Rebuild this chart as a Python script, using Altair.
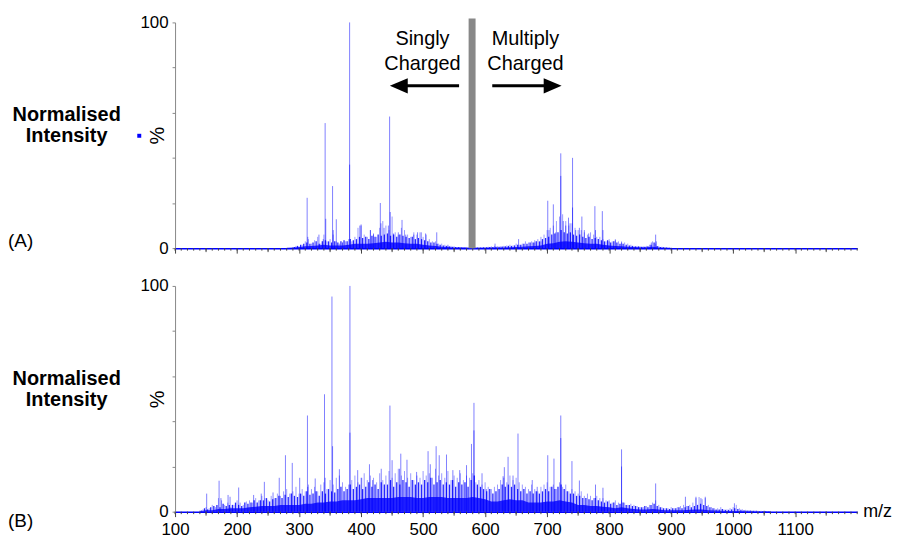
import altair as alt
import pandas as pd

FONT = "Liberation Sans"
BLUE = "#0000ff"
W, H = 686, 227

# ---------------- Panel A data ----------------
A_PEAK_MZ = [313, 314, 332, 339, 342, 343, 354, 355, 360, 370, 381.5, 381.5, 398, 400, 415,
             420, 431, 432, 437, 444, 446, 447, 452, 460, 466, 472, 485, 491, 497, 504,
             522, 540, 616, 654, 680, 690, 701, 703, 710, 714, 722, 722, 726, 730, 734.5,
             737, 741, 741, 746, 752, 756, 760, 767, 777, 778, 789, 790, 800, 810, 820,
             868, 875, 876]
A_PEAK_INT = [22.3, 5, 6, 4, 55.4, 13, 27.5, 8, 12.8, 2.5, 100, 37, 10, 10.5, 8,
              6.5, 20, 11, 9, 10, 58.3, 16, 6.5, 7, 12.5, 6, 6, 7, 7, 6.5,
              7, 1.5, 2, 4, 2.5, 3, 21, 8, 19.4, 7, 42, 32, 12, 10, 13.5,
              11, 40, 18, 8, 9, 14, 8, 6.5, 18.6, 8, 16.4, 8, 3, 3.5, 2.5,
              2.5, 6, 3]

A_HAIR_MZ = list(range(290, 905, 5))
A_HAIR_INT = [0.5, 1, 0.8, 1.5, 3, 4, 2, 3.5, 5, 2,
              6, 3, 4, 6, 3, 2, 2.5, 3, 4, 3,
              5, 9, 10, 6, 5, 8, 6, 5, 9, 12,
              10, 8, 14, 7, 6, 9, 8, 6, 5, 7,
              6, 7, 5, 6, 4, 3, 3, 2, 2, 1.5,
              1, 1, 0.8, 0.5, 0.5, 0.5, 0.5, 0.4, 0.3, 0.5,
              0.5, 0.5, 0.5, 0.6, 0.8, 1, 0.8, 0.8, 1, 1.2,
              1.5, 1.2, 2, 1.5, 2, 3, 2.5, 3, 3.5, 4,
              5, 6, 8, 9, 10, 12, 14, 15, 12, 10,
              11, 9, 8, 8, 7, 6, 7, 6, 5, 5,
              4, 3, 4, 3, 4, 3, 3, 2.5, 2, 1.5,
              1, 1, 0.8, 0.8, 1, 1.5, 3, 2, 1, 0.6,
              0.5, 0.4, 0.3]

A_DARK_MZ = [292.5 + 5 * i for i in range(122)]
A_DARK_INT = [0.5, 1, 1.5, 2, 2.5, 2, 2.5, 3, 2, 3,
              3.5, 3, 2.5, 3, 2.5, 3, 3.5, 3, 4, 3.5,
              4, 5, 4.5, 5, 4, 5.5, 5, 6, 5.5, 6,
              6.5, 5.5, 6, 5, 6, 5.5, 5, 4.5, 5, 4,
              4.5, 4, 3.5, 3, 2.5, 2.5, 2, 1.5, 1.2, 1,
              0.8, 0.6, 0.5, 0.5, 0.4, 0.4, 0.3, 0.3, 0.3, 0.3,
              0.3, 0.4, 0.4, 0.5, 0.5, 0.6, 0.6, 0.7, 0.8, 1,
              1, 1.2, 1.5, 1.5, 2, 2, 2.5, 2.5, 3, 3,
              4, 4.5, 5, 6, 6.5, 7, 8, 7, 6.5, 7,
              6, 5.5, 6, 5, 4.5, 5, 4, 4.5, 4, 3.5,
              3, 3.5, 2.5, 3, 2.5, 2, 2, 1.5, 1.2, 1,
              0.8, 0.8, 0.6, 0.6, 0.8, 1.5, 2.5, 1, 0.5, 0.4,
              0.3, 0.2]

A_ENV_MZ = list(range(280, 910, 10))
A_ENV_INT = [0.2, 0.3, 0.5, 0.8, 1, 1.2, 1.5, 1.2, 1.2, 1.2,
             1.5, 2, 2, 2, 2.2, 2.5, 2.8, 2.5, 2.5, 2.2,
             2, 2, 1.5, 1.2, 1, 0.6, 0.5, 0.3, 0.3, 0.2,
             0.2, 0.2, 0.2, 0.3, 0.3, 0.3, 0.4, 0.5, 0.6, 0.8,
             1, 1.2, 2, 2.2, 2.8, 3, 2.8, 2.5, 2.2, 2,
             2, 1.5, 1.2, 1, 0.8, 0.6, 0.5, 0.4, 0.4, 0.6,
             0.3, 0.2, 0.1]

# ---------------- Panel B data ----------------
B_PEAK_MZ = [151, 171, 174, 185.5, 188.7, 202.6, 226.7, 239, 244, 258, 268, 278, 289, 301,
             313.5, 314, 326, 341, 342, 353, 354, 365, 382, 382, 394.5, 401, 413.5, 418.6,
             432.5, 446.5, 450, 462, 464, 474, 489.5, 508, 511.6, 521, 526, 537.7, 548, 559,
             570, 578, 582, 582, 595, 602, 629, 631, 637, 645, 653, 676, 684, 701, 711,
             722, 722, 740, 752, 778, 790, 820, 820, 875, 923, 940, 948, 955, 1002]
B_PEAK_INT = [8, 13.7, 6, 7.4, 6.6, 10.7, 7.4, 8, 13.2, 8.5, 15, 25, 21.6, 15,
              42.6, 11, 14.7, 52, 15, 95.3, 29, 18.8, 100, 35, 18.4, 15, 21, 14,
              19, 47, 22.8, 19, 25.7, 23, 17.6, 26.8, 21, 29, 25, 25.3, 18.4, 18.4,
              20.6, 30, 48.2, 36, 17, 10, 15.7, 19.7, 24.3, 16, 34.6, 14, 11, 25, 23.5,
              42.6, 32.6, 22.4, 13.8, 12, 10.6, 27.6, 20, 12.5, 6.6, 6.6, 6, 6.6, 3.7]

B_HAIR_MZ = list(range(140, 1065, 5))
B_HAIR_INT = [0.5, 1, 2, 1.5, 3, 2, 6, 5, 3, 4,
              2, 3, 5, 4, 3, 4.5, 5, 4, 6, 5,
              7, 6, 5, 7, 6, 8, 7, 9, 10, 8,
              9, 11, 8, 10, 9, 12, 10, 11, 9, 12,
              13, 10, 14, 12, 15, 16, 13, 11, 12, 14,
              16, 13, 15, 17, 14, 16, 15, 13, 17, 14,
              16, 18, 15, 17, 19, 16, 18, 15, 17, 14,
              16, 15, 18, 16, 17, 15, 19, 16, 17, 15,
              18, 14, 16, 15, 17, 14, 16, 15, 17, 13,
              14, 12, 13, 11, 10, 11, 12, 14, 15, 13,
              16, 14, 15, 13, 12, 11, 10, 12, 10, 9,
              11, 12, 13, 11, 12, 10, 13, 11, 12, 9,
              10, 9, 8, 9, 7, 8, 7, 6, 7, 6,
              6, 5, 5, 4, 5, 4, 5, 4, 3, 3.5,
              3, 2.5, 2, 2, 2.5, 3, 4, 5, 3, 2,
              1.5, 1.5, 2, 1.5, 2, 2.5, 3, 2.5, 3, 4,
              6, 6.5, 5.5, 6, 3, 2, 1.5, 1.5, 2, 1,
              1, 1.5, 2, 3, 1.5, 1, 0.8, 0.6, 0.5, 0.5,
              0.4, 0.4, 0.5, 0.3, 0.3]

B_DARK_MZ = [142.5 + 5 * i for i in range(184)]
B_DARK_INT = [0.5, 1.5, 1, 2, 2.5, 3, 2, 3.5, 2.5, 3,
              3, 4, 3, 2.5, 4, 3.5, 4, 5, 4, 5,
              5, 6, 4.5, 5.5, 6, 7, 6, 7.5, 6.5, 8,
              7, 6.5, 8, 7, 9, 7.5, 8, 9, 7, 9,
              8, 10, 9, 8.5, 10, 11, 9, 10, 12, 10,
              11, 12, 10, 11, 13, 11, 12, 10, 13, 12,
              12, 14, 11, 13, 12, 14, 13, 11, 14, 12,
              13, 12, 14, 13, 15, 12, 13, 14, 12, 13,
              12, 14, 11, 13, 12, 13, 11, 14, 16, 12,
              11, 10, 9, 10, 8, 9, 10, 12, 11, 12,
              11, 12, 10, 9, 10, 8, 9, 8, 9, 8,
              9, 10, 9, 11, 10, 11, 12, 10, 9, 8,
              8, 7, 7, 6, 6, 5.5, 5, 6, 5, 4.5,
              4, 4.5, 3.5, 4, 3, 3.5, 4, 3, 3, 2.5,
              2.5, 2, 2, 2.5, 2, 3, 3.5, 2.5, 2, 1.5,
              1.5, 1.2, 1.5, 1.5, 2, 1.5, 2, 2.5, 2, 2.5,
              3, 3.5, 3, 2.5, 2, 1.5, 1, 1, 1.2, 0.8,
              0.8, 1, 1.5, 1.2, 0.8, 0.6, 0.5, 0.5, 0.4, 0.4,
              0.3, 0.3, 0.3, 0.2]

B_ENV_MZ = list(range(140, 1070, 10))
B_ENV_INT = [0.2, 0.6, 0.6, 1.2, 1.2, 1.5, 1.5, 1.5, 2, 2.2,
             2.5, 2.5, 2.5, 3, 3, 3, 3, 3.5, 3.5, 4,
             4, 4.5, 4.5, 5, 5, 5, 5.5, 6, 6, 6,
             6, 6, 6.5, 6.5, 6.5, 6, 6, 6.5, 6.5, 6.5,
             6, 6, 6, 6, 6.5, 6, 5.5, 4.5, 4.5, 5,
             5.5, 5, 5, 4, 4, 4, 4.5, 4.5, 5, 4.5,
             4, 3, 3, 2.5, 2.5, 2.2, 2, 1.5, 2, 1.5,
             1.2, 1, 1, 1.2, 1, 0.6, 0.6, 0.6, 0.6, 0.8,
             1, 1, 0.6, 0.5, 0.4, 0.3, 0.3, 0.3, 0.2, 0.2,
             0.1, 0.1, 0.1]

X_LABEL_TICKS = list(range(100, 1200, 100))
X_MINOR_TICKS = list(range(100, 1210, 10))
X_MID_TICKS = list(range(150, 1250, 100))
Y_TICKS = list(range(0, 110, 10))

# annotation values (panel A)
DIVIDER_MZ = 579
SINGLY_MZ, MULTIPLY_MZ, TEXT_Y = 499, 665, 90.2
ARROW_Y = 71.9
LEFT_ARROW = (558, 462)
RIGHT_ARROW = (611.5, 708)
LEFT_HEAD_MZ, RIGHT_HEAD_MZ = 460.8, 708.9

xscale = alt.Scale(domain=[100, 1200], nice=False, zero=False)
yscale = alt.Scale(domain=[0, 100], nice=False, zero=True)


def x_axis(show_labels):
    return alt.Axis(values=X_LABEL_TICKS, grid=False, domainColor=BLUE, domainWidth=1.5,
                    tickColor="#444444", tickWidth=1, tickSize=5, format="d",
                    labels=show_labels, labelFont=FONT, labelFontSize=17,
                    labelColor="black", labelPadding=5, labelFlush=False,
                    labelOverlap=False, title=None)


y_axis = alt.Axis(values=Y_TICKS, grid=False, domainColor="#888888", tickColor="#888888",
                  tickSize=3, labelPadding=4, labelFont=FONT, labelFontSize=17,
                  labelColor="black", labelFlush=False, labelOverlap=False,
                  labelExpr="(datum.value === 0 || datum.value === 100) ? datum.label : ''",
                  title="%", titleFont=FONT, titleFontSize=20, titleFontWeight="normal",
                  titleColor="black", titleX=-18, titleY=H / 2, titleAngle=270,
                  titleAlign="center", titleBaseline="middle")


def panel(peak_mz, peak_int, hair_mz, hair_int, dark_mz, dark_int, env_mz, env_int,
          label, label_y, show_labels, name_y, extra=None):
    env = alt.Chart(pd.DataFrame({"mz": env_mz, "v": env_int})).mark_area(
        color=BLUE, opacity=0.8, interpolate="linear").encode(
        x=alt.X("mz:Q", scale=xscale, axis=x_axis(show_labels)),
        y=alt.Y("v:Q", scale=yscale, axis=y_axis),
    )
    hairs = alt.Chart(pd.DataFrame({"mz": hair_mz, "v": hair_int})).mark_rule(
        color=BLUE, opacity=0.4, strokeWidth=1).encode(
        x="mz:Q", y="v:Q", y2=alt.datum(0))
    dark = alt.Chart(pd.DataFrame({"mz": dark_mz, "v": dark_int})).mark_rule(
        color=BLUE, opacity=0.85, strokeWidth=1.3).encode(
        x="mz:Q", y="v:Q", y2=alt.datum(0))
    peaks = alt.Chart(pd.DataFrame({"mz": peak_mz, "v": peak_int})).mark_rule(
        color=BLUE, opacity=0.5, strokeWidth=1).encode(
        x="mz:Q", y="v:Q", y2=alt.datum(0))
    minor = alt.Chart(pd.DataFrame({"t": X_MINOR_TICKS})).mark_rule(
        color="#444444", strokeWidth=1).encode(
        x="t:Q", y=alt.value(H), y2=alt.value(H + 2.5))
    mid = alt.Chart(pd.DataFrame({"t": X_MID_TICKS})).mark_rule(
        color="#444444", strokeWidth=1).encode(
        x="t:Q", y=alt.value(H), y2=alt.value(H + 4))
    one = pd.DataFrame({"k": [0]})
    name = alt.Chart(one).mark_text(
        text=["Normalised", "Intensity"], font=FONT, fontSize=20, fontWeight="bold",
        lineHeight=21, align="center", baseline="alphabetic", color="black").encode(
        x=alt.value(-109), y=alt.value(name_y))
    lab = alt.Chart(one).mark_text(
        text=label, font=FONT, fontSize=19, align="left", baseline="middle",
        color="black").encode(x=alt.value(-168), y=alt.value(label_y))
    layers = [env, hairs, dark, peaks, minor, mid, name, lab]
    if extra:
        layers += extra
    return alt.layer(*layers).properties(width=W, height=H)


# panel A annotations
divider = alt.Chart(pd.DataFrame({"mz": [DIVIDER_MZ]})).mark_rule(
    color="#888888", strokeWidth=7).encode(x="mz:Q", y=alt.value(-4), y2=alt.value(H))
shafts = alt.Chart(pd.DataFrame({"a": [LEFT_ARROW[0], RIGHT_ARROW[0]],
                                 "b": [LEFT_ARROW[1], RIGHT_ARROW[1]],
                                 "y": [ARROW_Y, ARROW_Y]})).mark_rule(
    color="black", strokeWidth=3).encode(x="a:Q", x2="b:Q", y="y:Q")
head_l = alt.Chart(pd.DataFrame({"mz": [LEFT_HEAD_MZ], "y": [ARROW_Y]})).mark_point(
    shape="M -1 0 L 1 -0.85 L 1 0.85 Z", size=324, filled=True, color="black",
    opacity=1).encode(x="mz:Q", y="y:Q")
head_r = alt.Chart(pd.DataFrame({"mz": [RIGHT_HEAD_MZ], "y": [ARROW_Y]})).mark_point(
    shape="M 1 0 L -1 -0.85 L -1 0.85 Z", size=324, filled=True, color="black",
    opacity=1).encode(x="mz:Q", y="y:Q")
txt_s = alt.Chart(pd.DataFrame({"mz": [SINGLY_MZ], "y": [TEXT_Y]})).mark_text(
    text=["Singly", "Charged"], font=FONT, fontSize=20, lineHeight=25.5,
    align="center", baseline="alphabetic", color="black").encode(x="mz:Q", y="y:Q")
txt_m = alt.Chart(pd.DataFrame({"mz": [MULTIPLY_MZ], "y": [TEXT_Y]})).mark_text(
    text=["Multiply", "Charged"], font=FONT, fontSize=20, lineHeight=25.5,
    align="center", baseline="alphabetic", color="black").encode(x="mz:Q", y="y:Q")
square = alt.Chart(pd.DataFrame({"k": [0]})).mark_square(
    size=16, color=BLUE, opacity=1).encode(x=alt.value(-36), y=alt.value(114))

panel_a = panel(A_PEAK_MZ, A_PEAK_INT, A_HAIR_MZ, A_HAIR_INT, A_DARK_MZ, A_DARK_INT,
                A_ENV_MZ, A_ENV_INT, "(A)", 220, False, 99,
                extra=[divider, shafts, head_l, head_r, txt_s, txt_m, square])

mz_label = alt.Chart(pd.DataFrame({"k": [0]})).mark_text(
    text="m/z", font=FONT, fontSize=18, align="left", baseline="middle",
    color="black").encode(x=alt.value(692), y=alt.value(H))

panel_b = panel(B_PEAK_MZ, B_PEAK_INT, B_HAIR_MZ, B_HAIR_INT, B_DARK_MZ, B_DARK_INT,
                B_ENV_MZ, B_ENV_INT, "(B)", 236, True, 100, extra=[mz_label])

chart = alt.vconcat(panel_a, panel_b, spacing=21).properties(
    padding={"left": 0, "top": 4, "right": 0, "bottom": 0}
).configure(background="white").configure_view(stroke=None)

chart.save("out.html", embed_options={"renderer": "svg", "actions": False})
